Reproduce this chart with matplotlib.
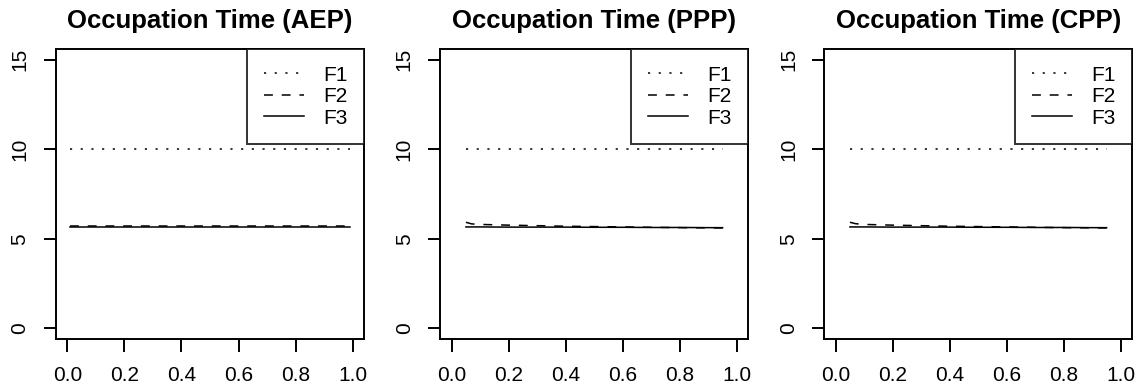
import matplotlib
matplotlib.use("Agg")
import matplotlib.pyplot as plt

plt.rcParams['font.family'] = ['Liberation Sans', 'DejaVu Sans']

titles = ["Occupation Time (AEP)", "Occupation Time (PPP)", "Occupation Time (CPP)"]
labels = ["F1", "F2", "F3"]

# x grids
x_aep = [0.01, 0.1, 0.2, 0.3, 0.4, 0.5, 0.6, 0.7, 0.8, 0.9, 0.99]
x_pp = [0.05, 0.07, 0.1, 0.2, 0.3, 0.4, 0.5, 0.6, 0.7, 0.8, 0.9, 0.95]

# AEP
aep_f1 = [10, 10, 10, 10, 10, 10, 10, 10, 10, 10, 10]
aep_f2 = [5.70, 5.70, 5.70, 5.70, 5.70, 5.70, 5.70, 5.70, 5.70, 5.70, 5.70]
aep_f3 = [5.67, 5.67, 5.67, 5.67, 5.67, 5.67, 5.67, 5.67, 5.67, 5.67, 5.67]

# PPP
ppp_f1 = [10, 10, 10, 10, 10, 10, 10, 10, 10, 10, 10, 10]
ppp_f2 = [5.92, 5.83, 5.80, 5.76, 5.73, 5.70, 5.68, 5.66, 5.64, 5.62, 5.61, 5.60]
ppp_f3 = [5.66, 5.66, 5.66, 5.65, 5.65, 5.65, 5.64, 5.64, 5.63, 5.63, 5.62, 5.62]

# CPP
cpp_f1 = [10, 10, 10, 10, 10, 10, 10, 10, 10, 10, 10, 10]
cpp_f2 = [5.92, 5.84, 5.80, 5.76, 5.73, 5.70, 5.68, 5.66, 5.64, 5.62, 5.61, 5.60]
cpp_f3 = [5.66, 5.66, 5.66, 5.65, 5.65, 5.65, 5.64, 5.64, 5.63, 5.63, 5.62, 5.62]

panels = [
    (x_aep, [aep_f1, aep_f2, aep_f3]),
    (x_pp, [ppp_f1, ppp_f2, ppp_f3]),
    (x_pp, [cpp_f1, cpp_f2, cpp_f3]),
]

styles = [(0, (1.4, 5.6)), (0, (5.8, 5.8)), '-']

fig = plt.figure(figsize=(11.45, 3.91), dpi=100)
lefts = [0.0489, 0.3845, 0.7199]

for i, (x, ys) in enumerate(panels):
    ax = fig.add_axes([lefts[i], 0.133, 0.269, 0.7417])
    for y, ls, lab in zip(ys, styles, labels):
        ax.plot(x, y, color='black', linestyle=ls, linewidth=1.1, label=lab)
    ax.set_xlim(-0.04, 1.04)
    ax.set_ylim(-0.6, 15.6)
    ax.set_xticks([0.0, 0.2, 0.4, 0.6, 0.8, 1.0])
    ax.set_xticklabels(["0.0", "0.2", "0.4", "0.6", "0.8", "1.0"])
    ax.set_yticks([0, 5, 10, 15])
    ax.tick_params(direction='out', length=9, width=1.4, labelsize=15, color='black')
    ax.tick_params(axis='x', pad=10.5)
    ax.tick_params(axis='y', pad=10)
    for lbl in ax.get_yticklabels():
        lbl.set_rotation(90)
        lbl.set_va('center')
    for s in ax.spines.values():
        s.set_linewidth(1.4)
        s.set_color('black')
    ax.set_title(titles[i], fontsize=18.5, fontweight='bold', pad=15)
    leg = ax.legend(loc='upper right', fontsize=15, frameon=True, fancybox=False,
                    borderaxespad=0, borderpad=0.8, handlelength=1.95,
                    handletextpad=0.9, labelspacing=0.12)
    leg.get_frame().set_edgecolor('black')
    leg.get_frame().set_linewidth(1.4)

fig.savefig("out.png", dpi=100)
